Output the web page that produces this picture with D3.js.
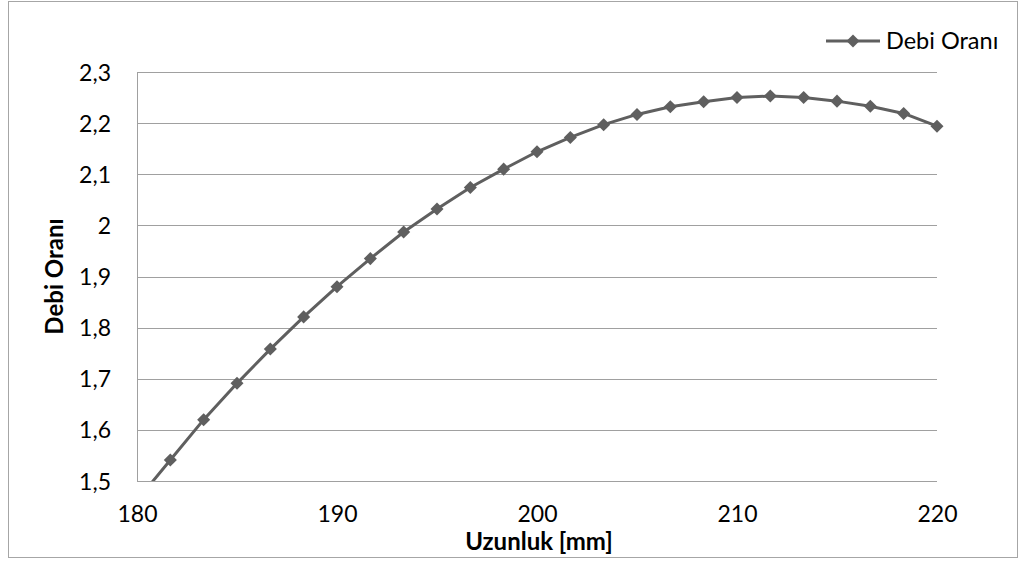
<!DOCTYPE html>
<html>
<head>
<meta charset="utf-8">
<script src="https://cdn.jsdelivr.net/npm/d3@7"></script>
<style>
  html, body { margin: 0; padding: 0; background: #fff; }
  svg { display: block; font-family: Lato, "Open Sans", sans-serif; }
</style>
</head>
<body>
<svg id="chart" width="1019" height="561"></svg>
<script>
// ---- data ----
const lengths = [180, 181.667, 183.333, 185, 186.667, 188.333, 190, 191.667, 193.333, 195,
                 196.667, 198.333, 200, 201.667, 203.333, 205, 206.667, 208.333, 210,
                 211.667, 213.333, 215, 216.667, 218.333, 220];
const ratios = [1.462, 1.541, 1.620, 1.691, 1.758, 1.821, 1.880, 1.935, 1.987, 2.032,
                2.074, 2.110, 2.144, 2.172, 2.197, 2.217, 2.232, 2.242, 2.250,
                2.253, 2.250, 2.243, 2.233, 2.219, 2.194];
const xTicks = [180, 190, 200, 210, 220];
const yTicks = [1.5, 1.6, 1.7, 1.8, 1.9, 2.0, 2.1, 2.2, 2.3];
const seriesName = "Debi Oranı";
const xTitle = "Uzunluk [mm]";
const yTitle = "Debi Oranı";

// ---- layout ----
const pL = 137, pR = 937, pT = 72, pB = 481;
const lineColor = "#5f5f5f";
const gridColor = "#a0a0a0";

const svg = d3.select("#chart");

// outer border
svg.append("rect").attr("x", 8.5).attr("y", 1.5).attr("width", 1009).attr("height", 556)
  .attr("fill", "#fff").attr("stroke", "#a6a6a6").attr("stroke-width", 1);

const x = d3.scaleLinear().domain([180, 220]).range([pL, pR]);
const y = d3.scaleLinear().domain([1.5, 2.3]).range([pB, pT]);

// gridlines
svg.append("g").selectAll("line").data(yTicks).join("line")
  .attr("x1", pL).attr("x2", pR)
  .attr("y1", d => Math.round(y(d)) + 0.5).attr("y2", d => Math.round(y(d)) + 0.5)
  .attr("stroke", gridColor).attr("stroke-width", 1);

// y axis line
svg.append("line").attr("x1", pL + 0.5).attr("x2", pL + 0.5)
  .attr("y1", pT).attr("y2", pB + 0.5)
  .attr("stroke", gridColor).attr("stroke-width", 1);

const fmt = d => d3.format(".1~f")(d).replace(".", ",");

// y tick labels
const yAxis = d3.axisLeft(y).tickValues(yTicks).tickFormat(fmt).tickSize(0).tickPadding(0);
const yg = svg.append("g").attr("transform", `translate(${pL - 26},0)`).call(yAxis);
yg.select(".domain").remove();
yg.selectAll("text").attr("font-family", "Lato, sans-serif").attr("font-size", 23)
  .attr("fill", "#000").attr("dy", "0.35em");

// x tick labels
const xAxis = d3.axisBottom(x).tickValues(xTicks).tickFormat(d3.format("d")).tickSize(0).tickPadding(0);
const xg = svg.append("g").attr("transform", `translate(0,${pB})`).call(xAxis);
xg.select(".domain").remove();
xg.selectAll("text").attr("font-family", "Lato, sans-serif").attr("font-size", 23)
  .attr("fill", "#000").attr("dy", null).attr("y", 41);

// clip
svg.append("defs").append("clipPath").attr("id", "plotclip")
  .append("rect").attr("x", pL).attr("y", pT - 10).attr("width", pR - pL + 10).attr("height", pB - pT + 10);

const data = lengths.map((d, i) => ({ x: d, y: ratios[i] }));
const plot = svg.append("g").attr("clip-path", "url(#plotclip)");

plot.append("path").datum(data)
  .attr("fill", "none").attr("stroke", lineColor).attr("stroke-width", 3)
  .attr("stroke-linejoin", "round")
  .attr("d", d3.line().x(d => x(d.x)).y(d => y(d.y)));

const diamond = d3.symbol().type(d3.symbolSquare).size(85);
plot.selectAll("path.m").data(data.filter(d => d.y >= 1.5)).join("path").attr("class", "m")
  .attr("d", diamond)
  .attr("transform", d => `translate(${x(d.x)},${y(d.y)}) rotate(45)`)
  .attr("fill", lineColor);

// axis titles
svg.append("text").attr("x", (pL + pR) / 2 + 2).attr("y", 550)
  .attr("text-anchor", "middle").attr("font-family", "Lato, sans-serif")
  .attr("font-weight", "bold").attr("font-size", 24).attr("fill", "#000").text(xTitle);

svg.append("text").attr("transform", `translate(63,${(pT + pB) / 2}) rotate(-90)`)
  .attr("text-anchor", "middle").attr("font-family", "Lato, sans-serif")
  .attr("font-weight", "bold").attr("font-size", 24).attr("fill", "#000").text(yTitle);

// legend
const lg = svg.append("g");
lg.append("line").attr("x1", 826).attr("x2", 880).attr("y1", 41).attr("y2", 41)
  .attr("stroke", lineColor).attr("stroke-width", 3);
lg.append("path").attr("d", diamond).attr("transform", "translate(853,41) rotate(45)").attr("fill", lineColor);
lg.append("text").attr("x", 886).attr("y", 41).attr("dy", "0.35em")
  .attr("font-family", "Lato, sans-serif").attr("font-size", 23.5).attr("fill", "#000").text(seriesName);
</script>
</body>
</html>
